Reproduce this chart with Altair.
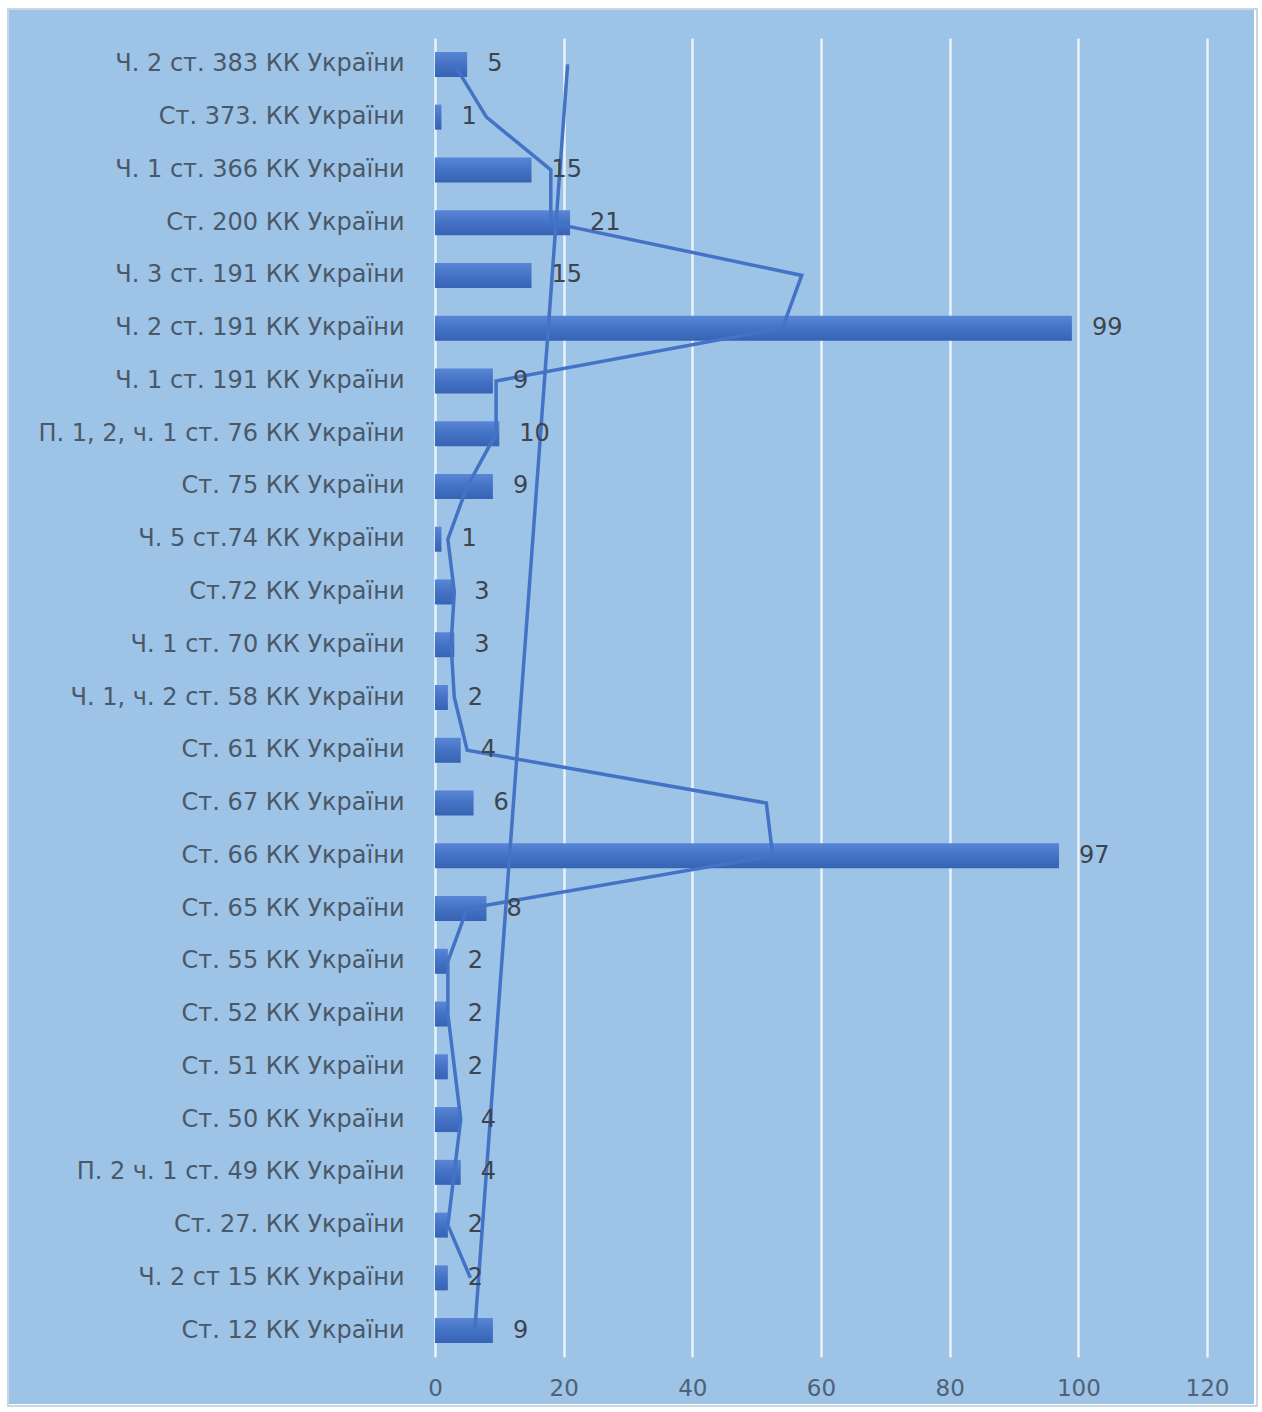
import altair as alt
import pandas as pd

# Articles of the Criminal Code, listed from the bottom of the chart upwards
articles = [
    "Ст. 12 КК України",
    "Ч. 2 ст 15 КК України",
    "Ст. 27. КК України",
    "П. 2 ч. 1 ст. 49 КК України",
    "Ст. 50 КК України",
    "Ст. 51 КК України",
    "Ст. 52 КК України",
    "Ст. 55 КК України",
    "Ст. 65 КК України",
    "Ст. 66 КК України",
    "Ст. 67 КК України",
    "Ст. 61 КК України",
    "Ч. 1, ч. 2 ст. 58 КК України",
    "Ч. 1 ст. 70  КК України",
    "Ст.72 КК України",
    "Ч. 5 ст.74 КК України",
    "Ст. 75 КК України",
    "П. 1, 2, ч. 1 ст. 76 КК України",
    "Ч. 1 ст. 191 КК України",
    "Ч. 2 ст. 191 КК України",
    "Ч. 3 ст. 191 КК України",
    "Ст. 200 КК України",
    "Ч. 1 ст. 366 КК  України",
    "Ст. 373. КК України",
    "Ч. 2 ст. 383 КК України",
]
counts = [9, 2, 2, 4, 4, 2, 2, 2, 8, 97, 6, 4, 2, 3, 3, 1, 9, 10, 9, 99, 15, 21, 15, 1, 5]
x_ticks = [0, 20, 40, 60, 80, 100, 120]

df = pd.DataFrame({"idx": list(range(1, len(articles) + 1)), "article": articles, "count": counts})

BLUE = "#4472C4"
PANEL = "#9DC3E6"
FONT = "DejaVu Sans"

y_enc = alt.Y(
    "article:N",
    sort=articles[::-1],
    scale=alt.Scale(paddingInner=0, paddingOuter=0),
    axis=alt.Axis(
        title=None, ticks=False, domain=False, grid=False,
        labelFont=FONT, labelFontSize=24, labelColor="#4A5868",
        labelPadding=31, labelLimit=450,
    ),
)
x_scale = alt.Scale(domain=[0, 120], nice=False)
x_axis = alt.Axis(
    title=None, values=x_ticks, ticks=False, domain=False, labelFlush=False,
    grid=True, gridColor="#EAF2FA", gridWidth=2.5,
    labelFont=FONT, labelFontSize=23, labelColor="#4F6176", labelPadding=20,
)

base = alt.Chart(df)

bars = base.mark_bar(
    color=alt.Gradient(
        gradient="linear", x1=0, y1=0, x2=0, y2=1,
        stops=[alt.GradientStop(color="#5A86D6", offset=0),
               alt.GradientStop(color="#4472C4", offset=0.5),
               alt.GradientStop(color="#3763B4", offset=1)],
    )
).encode(
    x=alt.X("count:Q", scale=x_scale, axis=x_axis),
    y=y_enc,
    size=alt.value(25),
)

labels = base.mark_text(
    align="left", baseline="middle", dx=20, font=FONT, fontSize=24, color="#3C4450"
).encode(
    x=alt.X("count:Q", scale=x_scale),
    y=alt.Y("article:N", sort=articles[::-1]),
    text="count:Q",
)

# two-period moving average, starting at the second category
moving_avg = base.transform_window(
    ma="mean(count)", sort=[alt.SortField("idx")], frame=[-1, 0]
).transform_filter("datum.idx > 1").mark_line(color=BLUE, strokeWidth=3.5).encode(
    x=alt.X("ma:Q", scale=x_scale),
    y=alt.Y("article:N", sort=articles[::-1]),
    order="idx:Q",
)

# linear trend across the categories
trend = base.transform_regression("idx", "count").transform_lookup(
    lookup="idx", from_=alt.LookupData(df, key="idx", fields=["article"])
).mark_line(color=BLUE, strokeWidth=3.5).encode(
    x=alt.X("count:Q", scale=x_scale),
    y=alt.Y("article:N", sort=articles[::-1]),
    order="idx:Q",
)

# white margin and thin outline around the chart panel
margin = base.mark_rect(fill=None, stroke="white", strokeWidth=16).encode(
    x=alt.value(-435), x2=alt.value(827), y=alt.value(-38), y2=alt.value(1374)
)
outline = base.mark_rect(fill=None, stroke="#C9D6E3", strokeWidth=2).encode(
    x=alt.value(-427), x2=alt.value(822), y=alt.value(-29), y2=alt.value(1368)
)

chart = alt.layer(bars, moving_avg, trend, labels, margin, outline).properties(
    width=772,
    height=1319,
    padding={"left": 435, "top": 38, "right": 55, "bottom": 55},
    autosize=alt.AutoSizeParams(type="none"),
    background=PANEL,
).configure_view(stroke=None)

chart.save("out.html", embed_options={"renderer": "svg", "actions": False})
